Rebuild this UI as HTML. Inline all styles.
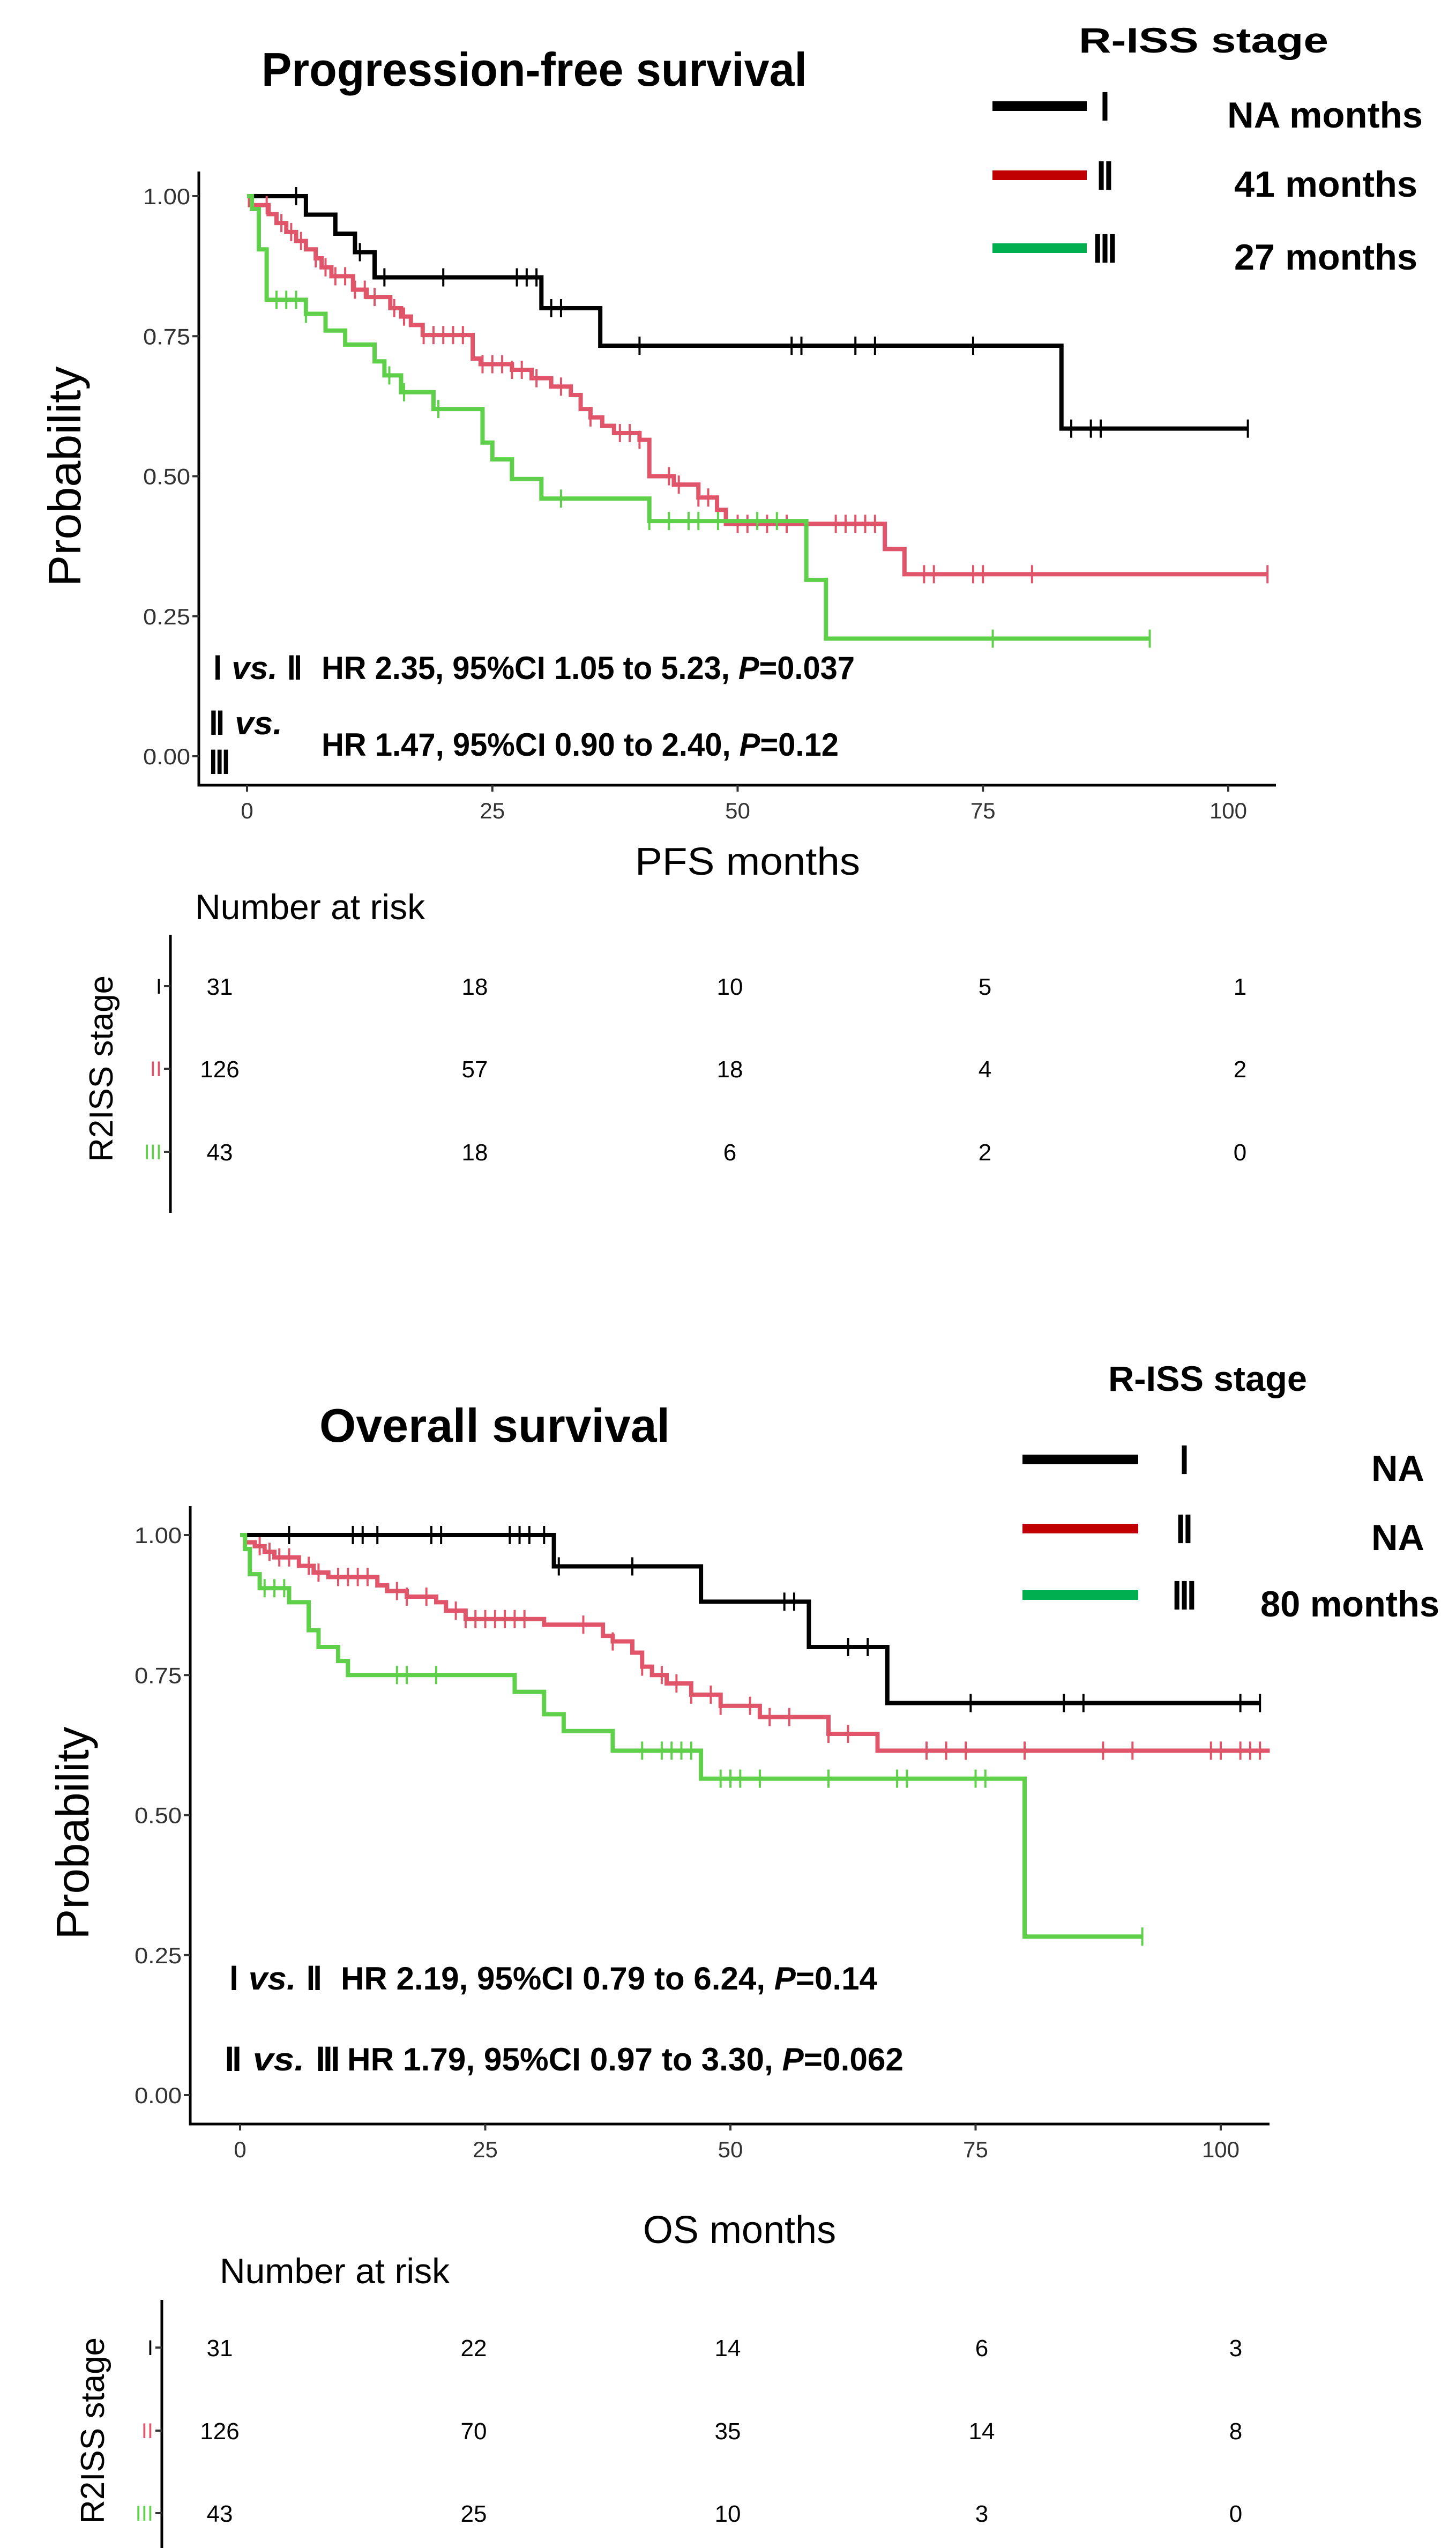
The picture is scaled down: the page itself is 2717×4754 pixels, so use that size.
<!DOCTYPE html>
<html><head><meta charset="utf-8"><style>
html,body{margin:0;padding:0;background:#fff}
svg{display:block}
text{font-family:"Liberation Sans",sans-serif}
.b{font-family:"Liberation Sans",sans-serif;font-weight:bold}
.tk{font-family:"Liberation Sans",sans-serif;font-size:42px;fill:#333}
</style></head><body>
<svg id="s" width="2717" height="4754" viewBox="0 0 2717 4754" xmlns="http://www.w3.org/2000/svg">
<g>
<text x="488" y="160" class="b" font-size="88" textLength="1018" lengthAdjust="spacingAndGlyphs">Progression-free survival</text>
<text x="2013" y="98" class="b" font-size="66" textLength="466" lengthAdjust="spacingAndGlyphs">R-ISS stage</text>
<g>
<line x1="1852" y1="198" x2="2028" y2="198" stroke="#000" stroke-width="18"/>
<text x="2062" y="224" class="b" font-size="70" text-anchor="middle" font-family="Liberation Serif">Ⅰ</text>
<text x="2290" y="238" class="b" font-size="68" textLength="365" lengthAdjust="spacingAndGlyphs">NA months</text>
<line x1="1852" y1="327" x2="2028" y2="327" stroke="#c00000" stroke-width="18"/>
<text x="2062" y="353" class="b" font-size="70" text-anchor="middle" font-family="Liberation Serif">Ⅱ</text>
<text x="2303" y="367" class="b" font-size="68" textLength="342" lengthAdjust="spacingAndGlyphs">41 months</text>
<line x1="1852" y1="463" x2="2028" y2="463" stroke="#00b050" stroke-width="18"/>
<text x="2062" y="489" class="b" font-size="70" text-anchor="middle" font-family="Liberation Serif">Ⅲ</text>
<text x="2303" y="503" class="b" font-size="68" textLength="342" lengthAdjust="spacingAndGlyphs">27 months</text>
</g>
<g id="pfsPlot"></g>
<text transform="translate(150,889) rotate(-90)" font-size="85" text-anchor="middle" textLength="411" lengthAdjust="spacingAndGlyphs">Probability</text>
<text x="1185" y="1632" font-size="72" textLength="420" lengthAdjust="spacingAndGlyphs">PFS months</text>
<g class="b" font-size="60">
<text x="397" y="1267" textLength="168" lengthAdjust="spacingAndGlyphs"><tspan font-family="Liberation Serif">Ⅰ</tspan> <tspan font-style="italic">vs.</tspan> <tspan font-family="Liberation Serif">Ⅱ</tspan></text>
<text x="600" y="1267" textLength="995" lengthAdjust="spacingAndGlyphs">HR 2.35, 95%CI 1.05 to 5.23, <tspan font-style="italic">P</tspan>=0.037</text>
<text x="389" y="1370" textLength="138" lengthAdjust="spacingAndGlyphs"><tspan font-family="Liberation Serif">Ⅱ</tspan> <tspan font-style="italic">vs.</tspan></text>
<text x="389" y="1443" font-family="Liberation Serif">Ⅲ</text>
<text x="600" y="1410" textLength="965" lengthAdjust="spacingAndGlyphs">HR 1.47, 95%CI 0.90 to 2.40, <tspan font-style="italic">P</tspan>=0.12</text>
</g>
<text x="364" y="1715" font-size="66">Number at risk</text>
<g id="pfsRisk"></g>
</g>
<g>
<text x="596" y="2690" class="b" font-size="88" textLength="654" lengthAdjust="spacingAndGlyphs">Overall survival</text>
<text x="2068" y="2595" class="b" font-size="66" textLength="371" lengthAdjust="spacingAndGlyphs">R-ISS stage</text>
<g>
<line x1="1908" y1="2723" x2="2124" y2="2723" stroke="#000" stroke-width="18"/>
<text x="2210" y="2749" class="b" font-size="70" text-anchor="middle" font-family="Liberation Serif">Ⅰ</text>
<text x="2559" y="2763" class="b" font-size="68" textLength="99" lengthAdjust="spacingAndGlyphs">NA</text>
<line x1="1908" y1="2852" x2="2124" y2="2852" stroke="#c00000" stroke-width="18"/>
<text x="2210" y="2878" class="b" font-size="70" text-anchor="middle" font-family="Liberation Serif">Ⅱ</text>
<text x="2559" y="2892" class="b" font-size="68" textLength="99" lengthAdjust="spacingAndGlyphs">NA</text>
<line x1="1908" y1="2976" x2="2124" y2="2976" stroke="#00b050" stroke-width="18"/>
<text x="2210" y="3002" class="b" font-size="70" text-anchor="middle" font-family="Liberation Serif">Ⅲ</text>
<text x="2352" y="3016" class="b" font-size="68" textLength="334" lengthAdjust="spacingAndGlyphs">80 months</text>
</g>
<g id="osPlot"></g>
<text transform="translate(165,3420) rotate(-90)" font-size="85" text-anchor="middle">Probability</text>
<text x="1380" y="4185" font-size="72" text-anchor="middle">OS months</text>
<g class="b" font-size="60">
<text x="427" y="3712" textLength="175" lengthAdjust="spacingAndGlyphs"><tspan font-family="Liberation Serif">Ⅰ</tspan> <tspan font-style="italic">vs.</tspan> <tspan font-family="Liberation Serif">Ⅱ</tspan></text>
<text x="636" y="3712" textLength="1001" lengthAdjust="spacingAndGlyphs">HR 2.19, 95%CI 0.79 to 6.24, <tspan font-style="italic">P</tspan>=0.14</text>
<text x="418" y="3863" textLength="218" lengthAdjust="spacingAndGlyphs"><tspan font-family="Liberation Serif">Ⅱ</tspan> <tspan font-style="italic">vs.</tspan> <tspan font-family="Liberation Serif">Ⅲ</tspan></text>
<text x="648" y="3863" textLength="1038" lengthAdjust="spacingAndGlyphs">HR 1.79, 95%CI 0.97 to 3.30, <tspan font-style="italic">P</tspan>=0.062</text>
</g>
<text x="410" y="4260" font-size="66">Number at risk</text>
<g id="osRisk"></g>
</g>
</svg>
<script>
const xTicks=[0,25,50,75,100];
const yTicks=[0,0.25,0.5,0.75,1];
const yTickLabels=["0.00","0.25","0.50","0.75","1.00"];
const stageLabels=["I","II","III"];
// PFS step curves: [time, survival]
const pfsT1=[0,6,9,11,13,30,36,83];
const pfsS1=[1,0.967,0.933,0.9,0.855,0.8,0.733,0.585];
const pfsEnd1=102;
const pfsC1=[5,11.5,14,20,27.5,28.5,29.5,31,32,40,55.5,56.5,62,64,74,84,86,87,102];
const pfsT2=[0,0.3,2.2,3,4,5,6,7,7.6,8.6,10.8,12.2,14.6,15.7,16.7,17.9,23,23.8,27,29,31,33,34,35,36.2,37.4,40,41,43.5,46,47.9,48.8,65,67];
const pfsS2=[1,0.984,0.968,0.952,0.936,0.92,0.905,0.889,0.873,0.857,0.833,0.82,0.8,0.785,0.77,0.752,0.71,0.7,0.69,0.675,0.66,0.645,0.62,0.605,0.59,0.577,0.565,0.5,0.485,0.462,0.44,0.415,0.37,0.325];
const pfsEnd2=104;
const pfsC2=[2,3.5,4.5,5.5,7,8,9,10,11,12,13,15,16,18,19,20,21,22,24,25,26,27,28,29.5,32,35,38,39,40,43,44,46,47,50,51,53,55,60,61,62,63,64,69,70,74,75,80,104];
const pfsT3=[0,0.5,1.2,2,6,8,10,13,14,15.7,19,24,25,27,30,41,57,59];
const pfsS3=[1,0.977,0.905,0.815,0.79,0.76,0.735,0.705,0.68,0.65,0.62,0.56,0.53,0.495,0.46,0.42,0.315,0.21];
const pfsEnd3=92;
const pfsC3=[3,4,5,6,14.5,16,19.5,32,41,43,45,46,48,52,54,76,92];
// OS
const osT1=[0,32,47,58,66];
const osS1=[1,0.944,0.881,0.8,0.7];
const osEnd1=104;
const osC1=[5,11.5,12.5,14,19.5,20.5,27.5,28.5,29.5,31,32.5,40,55.5,56.5,62,64,74.5,84,86,102,104];
const osT2=[0,0.5,1.5,2.5,3.5,6,7.5,9,14,15,17,20,21,23,31,37,38,40,41,42,43.5,46,49,53,60,65];
const osS2=[1,0.987,0.98,0.97,0.96,0.945,0.933,0.925,0.91,0.9,0.89,0.88,0.865,0.85,0.84,0.82,0.81,0.79,0.765,0.75,0.735,0.715,0.695,0.675,0.645,0.615];
const osEnd2=105;
const osC2=[2,3,4,5,7,8,10,11,12,13,16,17,19,22,23,24,25,26,27,28,29,35,38,41,43,44.5,46,48,49,52,54,56,60,62,70,72,74,80,88,91,99,100,102,103,104];
const osT3=[0,0.5,1,2,5,7,8,10,11,28,31,33,38,47,80];
const osS3=[1,0.975,0.93,0.905,0.88,0.83,0.8,0.775,0.75,0.72,0.68,0.65,0.615,0.565,0.283];
const osEnd3=92;
const osC3=[2.5,3.5,4.5,16,17,20,41,43,44,45,46,49,50,51,53,60,67,68,75,76,92];
// risk tables
const pfsRisk1=[31,18,10,5,1];
const pfsRisk2=[126,57,18,4,2];
const pfsRisk3=[43,18,6,2,0];
const osRisk1=[31,22,14,6,3];
const osRisk2=[126,70,35,14,8];
const osRisk3=[43,25,10,3,0];

const NS="http://www.w3.org/2000/svg";
function mk(tag,attrs,parent){const e=document.createElementNS(NS,tag);for(const k in attrs)e.setAttribute(k,attrs[k]);parent.appendChild(e);return e;}
const colors=["#000000","#e05569","#5fd04a"];

function drawPlot(g,cfg,curves){
  const xs=t=>cfg.x0+(t/100)*(cfg.x100-cfg.x0);
  const ys=p=>cfg.y0-p*(cfg.y0-cfg.y1);
  const ax=mk('path',{d:`M${cfg.axL},${cfg.yTop} V${cfg.axB} H${cfg.axR}`,fill:'none',stroke:'#000','stroke-width':5},g);
  
  
  yTicks.forEach((v,i)=>{
    const y=ys(v);
    mk('line',{x1:cfg.axL-12,x2:cfg.axL,y1:y,y2:y,stroke:'#333','stroke-width':4},g);
    const t=mk('text',{x:cfg.axL-16,y:y+15,'text-anchor':'end',class:'tk',textLength:88,lengthAdjust:'spacingAndGlyphs'},g);
    t.textContent=yTickLabels[i];
    
    
  });
  xTicks.forEach(v=>{
    const x=xs(v);
    mk('line',{x1:x,x2:x,y1:cfg.axB,y2:cfg.axB+12,stroke:'#333','stroke-width':4},g);
    const t=mk('text',{x:x,y:cfg.axB+62,'text-anchor':'middle',class:'tk'},g);
    t.textContent=String(v);
    
    
  });
  curves.forEach((c,ci)=>{
    let d=`M${xs(c.T[0])},${ys(c.S[0])}`;
    for(let i=1;i<c.T.length;i++){d+=` H${xs(c.T[i])} V${ys(c.S[i])}`;}
    d+=` H${xs(c.end)}`;
    const p=mk('path',{d,fill:'none',stroke:colors[ci],'stroke-width':8},g);
    
    
    const sAt=t=>{let s=c.S[0];for(let i=0;i<c.T.length;i++){if(c.T[i]<=t)s=c.S[i];}return s;};
    c.C.forEach(t=>{
      const x=xs(t),y=ys(sAt(t));
      const l=mk('line',{x1:x,x2:x,y1:y-17,y2:y+17,stroke:colors[ci],'stroke-width':4},g);
      
      
    });
  });
}
function drawRisk(g,cfg,rows){
  mk('line',{x1:cfg.axX,x2:cfg.axX,y1:cfg.top,y2:cfg.bot,stroke:'#000','stroke-width':5},g);
  const lab=mk('text',{transform:`translate(${cfg.labX},${(cfg.rowY[1])}) rotate(-90)`,'font-size':62,'text-anchor':'middle'},g);
  lab.textContent='R2ISS stage';
  
  
  const roman=["I","II","III"];
  rows.forEach((r,ri)=>{
    const y=cfg.rowY[ri];
    mk('line',{x1:cfg.axX-12,x2:cfg.axX,y1:y,y2:y,stroke:'#333','stroke-width':4},g);
    const rl=mk('text',{x:cfg.axX-16,y:y+14,'text-anchor':'end','font-size':40,fill:colors[ri]},g);
    rl.textContent=roman[ri];
    
    
    r.forEach((v,i)=>{
      const t=mk('text',{x:cfg.c0+i*cfg.dc,y:y+16,'text-anchor':'middle','font-size':44},g);
      t.textContent=String(v);
      
      
    });
  });
}
drawPlot(document.getElementById('pfsPlot'),{x0:461,x100:2292,y0:1411,y1:366,axL:371,axB:1465,axR:2381,yTop:320},
 [{T:pfsT1,S:pfsS1,end:pfsEnd1,C:pfsC1},{T:pfsT2,S:pfsS2,end:pfsEnd2,C:pfsC2},{T:pfsT3,S:pfsS3,end:pfsEnd3,C:pfsC3}]);
drawPlot(document.getElementById('osPlot'),{x0:448,x100:2278,y0:3909,y1:2864,axL:355,axB:3963,axR:2369,yTop:2810},
 [{T:osT1,S:osS1,end:osEnd1,C:osC1},{T:osT2,S:osS2,end:osEnd2,C:osC2},{T:osT3,S:osS3,end:osEnd3,C:osC3}]);
drawRisk(document.getElementById('pfsRisk'),{axX:318,top:1744,bot:2263,labX:210,rowY:[1840,1994,2149],c0:410,dc:476},[pfsRisk1,pfsRisk2,pfsRisk3]);
drawRisk(document.getElementById('osRisk'),{axX:302,top:4291,bot:4754,labX:194,rowY:[4380,4535,4689],c0:410,dc:474},[osRisk1,osRisk2,osRisk3]);
</script>
</body></html>
